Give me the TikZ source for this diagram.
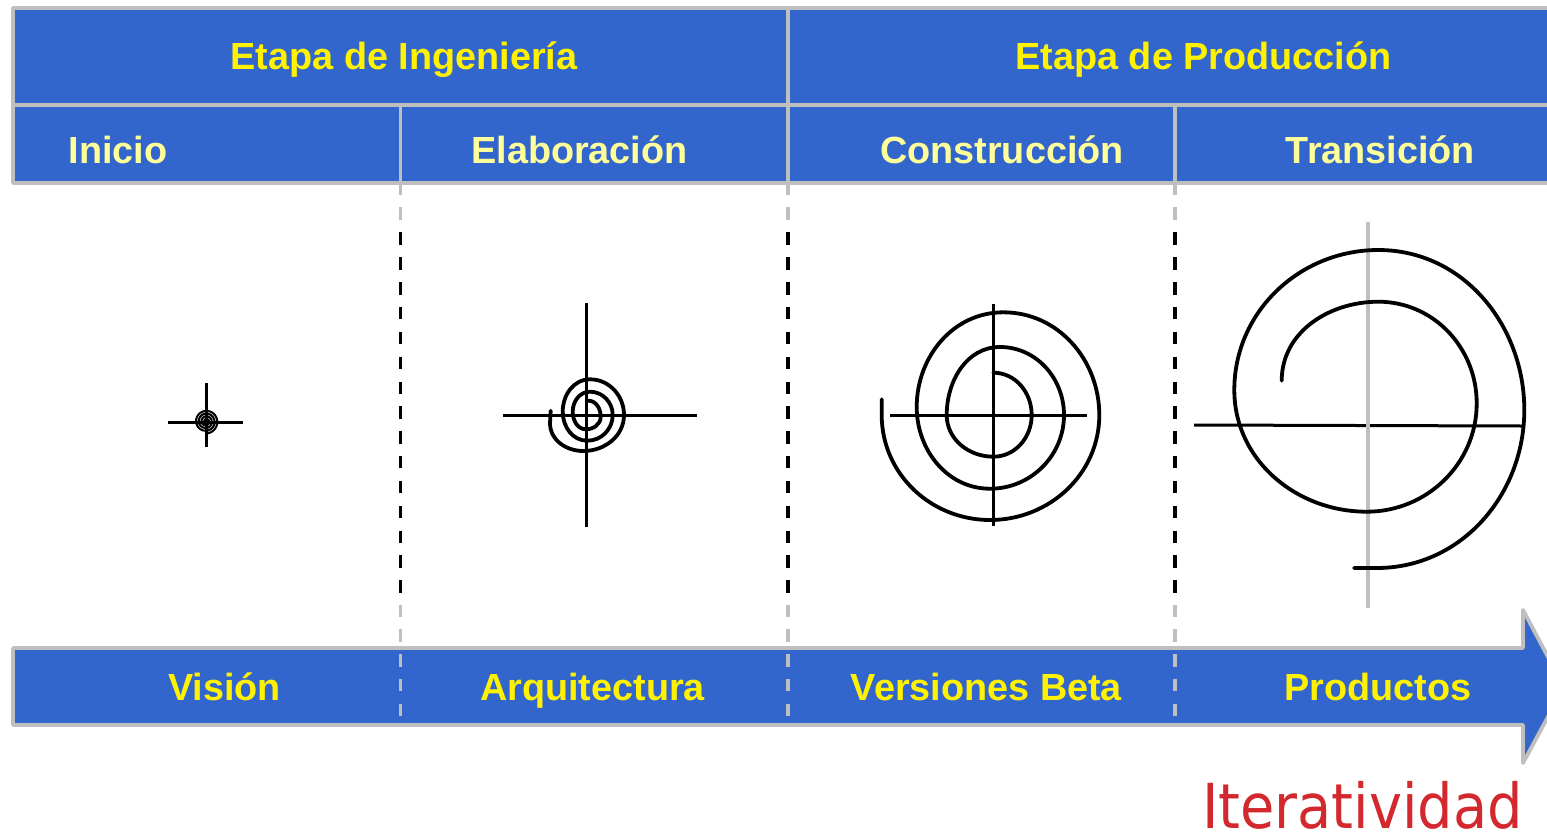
\documentclass[tikz,border=0pt]{standalone}
\usepackage{fontspec}
\setmainfont{Liberation Sans}
\newfontfamily\tahomaish{DejaVu Sans Condensed}
\definecolor{bandblue}{HTML}{3366CC}
\definecolor{edgegray}{HTML}{BFBFBF}
\definecolor{paleyellow}{HTML}{FFFF99}
\definecolor{iterred}{HTML}{D2282E}
\tikzset{
  edge/.style={draw=edgegray,line width=3.8pt},
  band/.style={fill=bandblue,draw=edgegray,line width=3.8pt,line join=round},
  head/.style={font=\fontsize{37.8}{40}\selectfont\bfseries,text=yellow,inner sep=0pt,anchor=base},
  sub/.style={font=\fontsize{37.8}{40}\selectfont\bfseries,text=paleyellow,inner sep=0pt,anchor=base},
  axis/.style={draw=black,line width=3pt},
  spiral/.style={draw=black,line width=3.8pt,line cap=round},
  graydash/.style={draw=edgegray,line width=3.8pt,dash pattern=on 12.4pt off 12.45pt},
  blackdash/.style={draw=black,line width=3.8pt,dash pattern=on 12.4pt off 12.45pt},
  qtr/.style={out=0,in=90},
  qrb/.style={out=-90,in=0},
  qbl/.style={out=180,in=-90},
  qlt/.style={out=90,in=180},
}
\begin{document}
\begin{tikzpicture}[x=1pt,y=-1pt]
\useasboundingbox (0,0) rectangle (1547,836);
\fill[white] (0,0) rectangle (1547,836);
% header
\path[band] (13,8) -- (1560,8) -- (1560,183) -- (13,183) -- cycle;
\draw[edge] (13,105) -- (1560,105);
\draw[edge] (788,8) -- (788,183);
\draw[edge] (400.5,105) -- (400.5,183);
\draw[edge] (1175,105) -- (1175,183);
\node[head] (ing) at (404,69.5) {Etapa de Ingeniería};
\node[head] (prod) at (1203.5,69.5) {Etapa de Producción};
\node[sub] (ini) at (118,163) {Inicio};
\node[sub] (ela) at (579.5,163) {Elaboración};
\node[sub] (con) at (1002,163) {Construcción};
\node[sub] (tra) at (1380.5,163) {Transición};
% arrow
\path[band] (13,648) -- (1523,648) -- (1523,610) -- (1564,687) -- (1523,763) -- (1523,725) -- (13,725) -- cycle;
\node[head] (vis) at (224.5,700) {Visión};
\node[head] (arq) at (592.5,700) {Arquitectura};
\node[head] (ver) at (986.5,700) {Versiones Beta};
\node[head] (pro) at (1378,700) {Productos};
\node[font=\tahomaish\fontsize{62}{66}\selectfont,text=iterred,inner sep=0pt,anchor=base] (ite) at (1362.5,828.5) {Iteratividad};
% dashed separators
\foreach \xx in {400.5,788,1175}{
  \draw[graydash] (\xx,182.5) -- (\xx,220);
  \draw[blackdash] (\xx,232.4) -- (\xx,593);
  \draw[graydash] (\xx,604.5) -- (\xx,716.5);
}
% crosses
\draw[axis] (168,422.5) -- (243,422.5);
\draw[axis] (206,383) -- (206,447);
\draw[axis] (503,415) -- (697,415);
\draw[axis] (586,303) -- (586,527);
\draw[axis] (890,415.5) -- (1087,415.5);
\draw[axis] (993,304) -- (993,526);
\draw[axis] (1194,425) -- (1523,426);
\draw[edgegray,line width=3.2pt] (1368,222) -- (1368,608);
% spirals
\draw[black,line width=2pt] plot[domain=0:1440,samples=140,smooth] ({206+(1+\x/1440*11)*cos(\x+90)},{421.5+(1+\x/1440*11)*sin(\x+90)});
\draw[spiral] (588.3,400.7) to[qtr] (600.7,416.7) to[qrb] (586,429.3) to[qbl] (572.7,411.7) to[qlt] (590,391.7)
  to[qtr] (612.7,415) to[qrb] (587.3,440.7) to[qbl] (562.7,411.7) to[qlt] (590,379.3)
  to[qtr] (624,415) to[qrb] (583.3,451) to[qbl] (550,423.3) -- (550.7,410.7);
\draw[spiral] (993.3,372.7) to[qtr] (1031.7,415) to[qrb] (993.3,456.7) to[qbl] (946.7,415) to[qlt] (1000,347)
  to[qtr] (1064,415) to[qrb] (990,488.7) to[qbl] (916.7,407) to[qlt] (1003.3,312.3)
  to[qtr] (1099.3,415) to[qrb] (990,520) to[qbl] (881.7,415) -- (881.7,399.3);
\draw[spiral] (1281.7,380.7) to[qlt] (1378.3,301.7) to[qtr] (1476.7,403.3) to[qrb] (1366.7,511.7) to[qbl] (1234.3,390)
  to[qlt] (1378.3,250) to[qtr] (1524.3,410) to[qrb] (1376.7,568) -- (1354,568);
\end{tikzpicture}
\end{document}
